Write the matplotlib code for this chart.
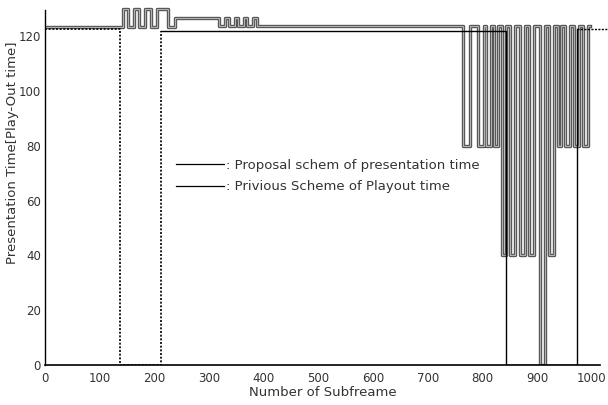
import numpy as np
import matplotlib
matplotlib.use('Agg')
import matplotlib.pyplot as plt
import matplotlib.patheffects as pe
from matplotlib.lines import Line2D

plt.rcParams['font.family'] = ['DejaVu Sans']

# 제안 방식 (step, where='post')
prop_x = [0, 142, 152, 163, 172, 183, 193, 204, 225, 238,
          319, 330, 336, 347, 353, 364, 370, 381, 387,
          765, 777, 791, 802, 806, 815, 821, 829,
          835, 843, 851, 860, 868, 877, 885, 894,
          905, 914, 922, 931, 938, 944, 951, 960, 968, 977, 984, 993, 997]
prop_y = [123.3, 130, 123.3, 130, 123.3, 130, 123.3, 130, 123.2, 126.6,
          123.6, 126.6, 123.6, 126.6, 123.6, 126.6, 123.6, 126.6, 123.6,
          80, 123.6, 80, 123.6, 80, 123.6, 80, 123.6,
          40, 123.6, 40, 123.6, 40, 123.6, 40, 123.6,
          0, 123.6, 40, 123.6, 80, 123.6, 80, 123.6, 80, 123.6, 80, 123.6, 123.6]

# 기존 방식
prev_x = [0, 137, 137, 212, 212, 843, 843, 973, 973, 1030]
prev_y = [122.6, 122.6, 0, 0, 121.7, 121.7, 0, 0, 122.6, 122.6]
solid_from, solid_to = 4, 8  # 실선 구간

labels = [': Proposal schem of presentation time', ': Privious Scheme of Playout time']

fig = plt.figure(figsize=(6.08, 4.05), dpi=100)
ax = fig.add_axes([45 / 608, 1 - 365 / 405, 555 / 608, 359 / 405])

ax.step(prop_x, prop_y, where='post', color='#b0b0b0', lw=1.0,
        path_effects=[pe.Stroke(linewidth=2.4, foreground='#444444'), pe.Normal()])

ax.plot(prev_x[:solid_from + 1], prev_y[:solid_from + 1], color='black', lw=1.2, ls=(0, (1.2, 1.0)))
ax.plot(prev_x[solid_from:solid_to + 1], prev_y[solid_from:solid_to + 1], color='black', lw=1.0)
ax.plot(prev_x[solid_to:], prev_y[solid_to:], color='black', lw=1.0, ls=(0, (1.5, 1.0)), clip_on=False)

ax.set_xlim(0, 1015)
ax.set_ylim(0, 131)
ax.set_xticks(np.arange(0, 1001, 100))
ax.set_yticks(np.arange(0, 121, 20))
ax.tick_params(length=0, labelsize=8.5, colors='#333333')
ax.tick_params(axis='y', pad=3)
ax.tick_params(axis='x', pad=5)
for s in ['top', 'right']:
    ax.spines[s].set_visible(False)
ax.spines['left'].set_linewidth(1.0)
ax.spines['left'].set_bounds(0, 129.5)
ax.spines['bottom'].set_linewidth(1.2)

ax.set_xlabel('Number of Subfreame', fontsize=9.5, color='#333333', labelpad=1)
ax.set_ylabel('Presentation Time[Play-Out time]', fontsize=9.5, color='#333333')
ax.yaxis.set_label_coords(-0.047, 0.59)

handles = [Line2D([], [], color='black', lw=0.9), Line2D([], [], color='black', lw=0.9)]
ax.legend(handles, labels, loc='upper left', bbox_to_anchor=(0.225, 0.593), frameon=False,
          borderpad=0, handlelength=3.6, handletextpad=0.15, labelspacing=0.65,
          fontsize=9.5, labelcolor='#333333')

fig.savefig('out.png', dpi=100)
